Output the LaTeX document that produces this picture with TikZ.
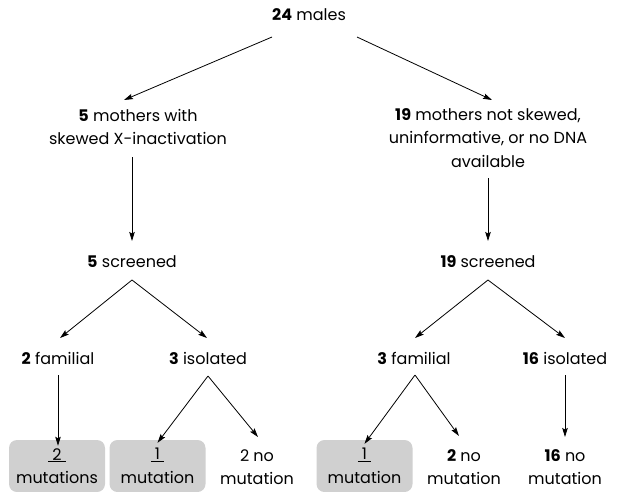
\documentclass[tikz,border=0pt]{standalone}
\usepackage{fontspec}
\setmainfont{Poppins}
\usetikzlibrary{arrows.meta}

\definecolor{boxgray}{RGB}{208,208,208}

\tikzset{
  lbl/.style={align=center, inner sep=0pt, font=\fontsize{16}{23.5}\selectfont},
  mutbox/.style={lbl, fill=boxgray, rounded corners=8pt, minimum width=96pt, minimum height=52pt},
  arr/.style={-{Stealth[length=9pt,width=5.5pt,inset=1.5pt]}, line width=0.8pt},
}

\begin{document}
\begin{tikzpicture}[x=1pt, y=-1pt]
  \useasboundingbox (0,0) rectangle (618,491);

  % Top
  \node[lbl] (males) at (309,15) {\textbf{24} males};

  % Mothers
  \node[lbl] (skew) at (138,127) {\textbf{5} mothers with\\skewed X-inactivation};
  \node[lbl] (noskew) at (488,138) {\textbf{19} mothers not skewed,\\uninformative, or no DNA\\available};

  % Screened
  \node[lbl] (scrL) at (132,262) {\textbf{5} screened};
  \node[lbl] (scrR) at (488,262) {\textbf{19} screened};

  % Familial / isolated
  \node[lbl] (famL) at (58,358) {\textbf{2} familial};
  \node[lbl] (isoL) at (208,358) {\textbf{3} isolated};
  \node[lbl] (famR) at (414,358) {\textbf{3} familial};
  \node[lbl] (isoR) at (565,358) {\textbf{16} isolated};

  % Outcomes
  \begin{scope}
    \clip (0,0) rectangle (618,491);
    \node[mutbox] (mutA) at (57,466) {\underline{\kern4pt 2\kern4pt}\\mutations};
    \node[mutbox] (mutB) at (157.5,466) {\underline{\kern4pt 1\kern4pt}\\mutation};
    \node[mutbox] (mutC) at (364.5,466) {\underline{\kern4pt 1\kern4pt}\\mutation};
  \end{scope}
  \node[lbl] (noB) at (257,467) {2 no\\mutation};
  \node[lbl] (noC) at (464,467) {\textbf{2} no\\mutation};
  \node[lbl] (noD) at (565,467) {\textbf{16} no\\mutation};

  % Arrows
  \draw[arr] (males.center) ++(-37,22) -- ([xshift=-14pt,yshift=27pt]skew.center);
  \draw[arr] (males.center) ++(48,22) -- ([xshift=4pt,yshift=38pt]noskew.center);
  \draw[arr] (skew.center) ++(-6,30) -- ([yshift=21pt]scrL.center);
  \draw[arr] (noskew.center) ++(0,40) -- ([yshift=21pt]scrR.center);

  \draw[arr] (scrL.center) ++(0,18) -- ([xshift=2pt,yshift=20pt]famL.center);
  \draw[arr] (scrL.center) ++(0,18) -- ([xshift=-1pt,yshift=20pt]isoL.center);
  \draw[arr] (scrR.center) ++(0,18) -- ([xshift=1pt,yshift=20pt]famR.center);
  \draw[arr] (scrR.center) ++(0,18) -- ([yshift=20pt]isoR.center);

  \draw[arr] (famL.center) ++(0,17) -- ([xshift=1pt,yshift=-6pt]mutA.north);
  \draw[arr] (isoL.center) ++(0,18) -- ([yshift=-3pt]mutB.north);
  \draw[arr] (isoL.center) ++(0,18) -- ([xshift=1pt,yshift=30pt]noB.center);
  \draw[arr] (famR.center) ++(1,17) -- ([yshift=-4pt]mutC.north);
  \draw[arr] (famR.center) ++(1,17) -- ([xshift=-5pt,yshift=31pt]noC.center);
  \draw[arr] (isoR.center) ++(0,17) -- ([yshift=30pt]noD.center);
\end{tikzpicture}
\end{document}
